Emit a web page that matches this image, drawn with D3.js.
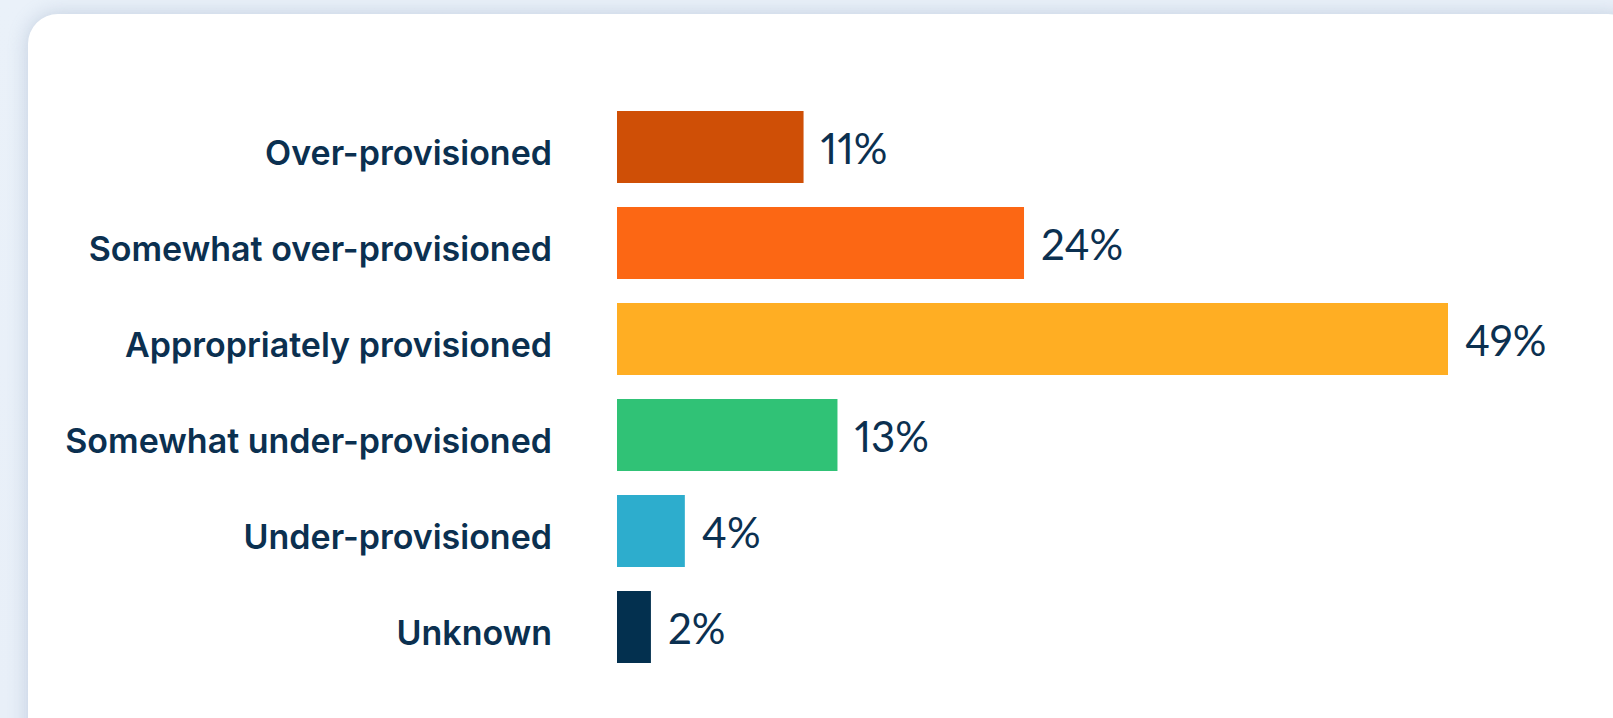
<!DOCTYPE html>
<html>
<head>
<meta charset="utf-8">
<script src="https://cdn.jsdelivr.net/npm/d3@7"></script>
<style>
  html, body { margin: 0; padding: 0; }
  body {
    width: 1613px; height: 718px; overflow: hidden; position: relative;
    background: linear-gradient(180deg, #eaf1f9 0%, #e8eff8 100%);
  }
  #card {
    position: absolute; left: 28px; top: 14px; width: 1610px; height: 760px;
    background: #ffffff; border-radius: 30px;
    box-shadow: 0 0 20px rgba(110, 135, 170, 0.32);
  }
  svg { position: absolute; left: 0; top: 0; }
</style>
</head>
<body>
<div id="card"></div>
<svg id="chart" width="1613" height="718"></svg>
<script>
const categories = [
  "Over-provisioned",
  "Somewhat over-provisioned",
  "Appropriately provisioned",
  "Somewhat under-provisioned",
  "Under-provisioned",
  "Unknown"
];
const values = [11, 24, 49, 13, 4, 2];
const valueLabels = ["11%", "24%", "49%", "13%", "4%", "2%"];
const colors = ["#cf4f06", "#fc6714", "#ffae23", "#30c276", "#2dadcd", "#03304f"];

const textColor = "#0b3050";
const svg = d3.select("#chart");

const x = d3.scaleLinear().domain([0, 49]).range([617, 1448]);
const y = d3.scaleBand().domain(categories).range([99, 675])
  .paddingInner(0.25).paddingOuter(0.125);

const data = categories.map((c, i) => ({ c, v: values[i], label: valueLabels[i], color: colors[i] }));

svg.selectAll("rect.bar").data(data).join("rect")
  .attr("class", "bar")
  .attr("x", x(0))
  .attr("y", d => y(d.c))
  .attr("width", d => x(d.v) - x(0))
  .attr("height", y.bandwidth())
  .attr("fill", d => d.color);

// category axis (labels only)
const axis = d3.axisLeft(y).tickSize(0).tickPadding(0);
const g = svg.append("g").attr("transform", "translate(552,0)").call(axis);
g.select(".domain").remove();
g.selectAll("text")
  .attr("fill", textColor)
  .attr("dy", null)
  .attr("y", 0)
  .attr("dominant-baseline", "auto")
  .attr("transform", "translate(0,18)")
  .style("font-family", "Inter, 'Noto Sans', sans-serif")
  .style("font-weight", 600)
  .style("font-size", "34px")
  .attr("text-anchor", "end");

svg.selectAll("text.val").data(data).join("text")
  .attr("class", "val")
  .attr("x", d => x(d.v) + 17)
  .attr("y", d => y(d.c) + y.bandwidth() / 2 + 17)
  .attr("fill", textColor)
  .style("font-family", "Lato, 'Open Sans', sans-serif")
  .style("font-weight", 400)
  .style("font-size", "42px")
  .style("font-variant-numeric", "proportional-nums")
  .text(d => d.label);
</script>
</body>
</html>
